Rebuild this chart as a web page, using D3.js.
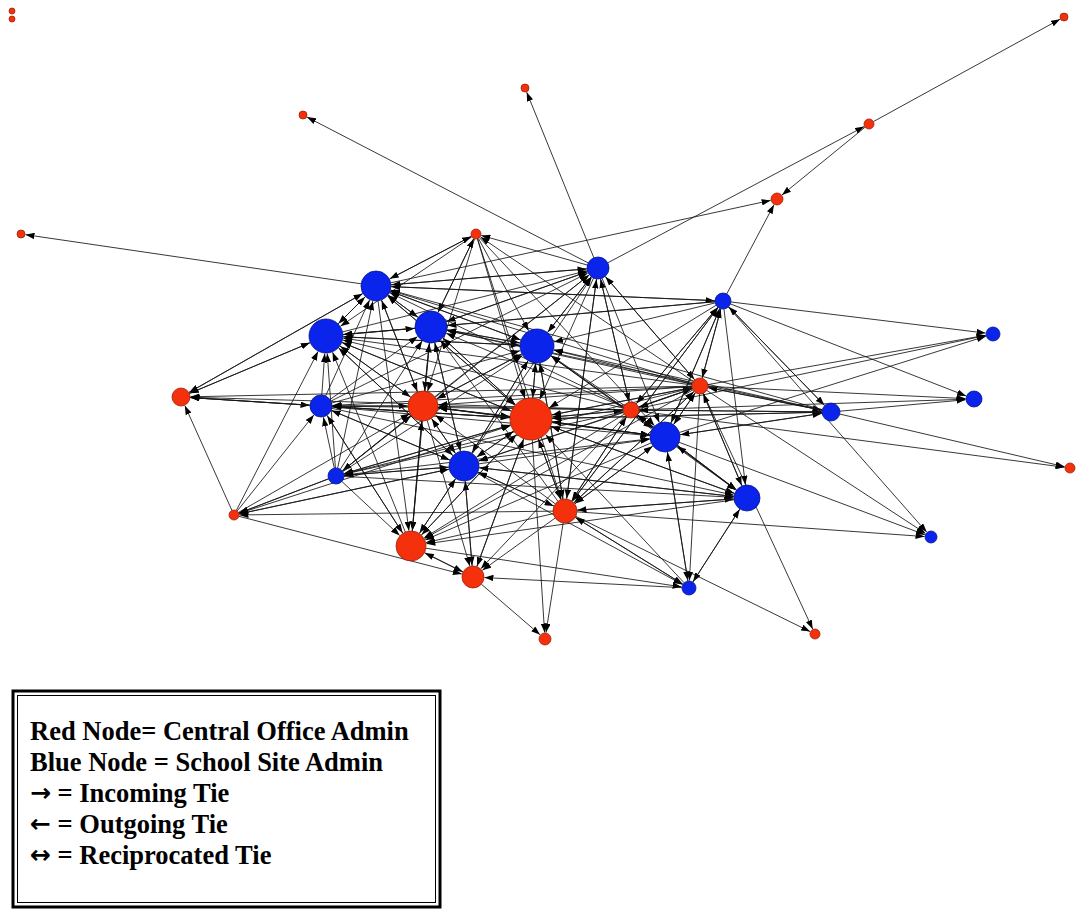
<!DOCTYPE html>
<html>
<head>
<meta charset="utf-8">
<script src="https://cdn.jsdelivr.net/npm/d3@7"></script>
<style>
  html, body { margin: 0; padding: 0; background: #fff; }
  svg { display: block; }
</style>
</head>
<body>
<svg id="net" width="1078" height="909"></svg>
<script>
// Advice network among district administrators.
// Node layout coordinates (layout units), role and size (in-degree based).
const nodeX = [12, 12, 1064, 525, 303, 869, 777, 21, 476, 598, 376, 723, 326, 431, 537, 993,
               181, 321, 423, 531, 631, 700, 665, 831, 974, 1070, 336, 464, 234, 565, 747, 931,
               411, 473, 689, 545, 815];
const nodeY = [11, 19, 17, 88, 115, 124, 199, 234, 234, 268, 286, 301, 336, 327, 346, 334,
               397, 406, 406, 419, 410, 386, 437, 412, 399, 468, 476, 466, 515, 511, 498, 537,
               546, 577, 588, 639, 634];
const nodeRole = ["C","C","C","C","C","C","C","C","C","S","S","S","S","S","S","S",
                  "C","S","C","C","C","C","S","S","S","C","S","S","C","C","S","S",
                  "C","C","S","C","C"];
const nodeSize = [0, 0, 1, 1, 1, 2, 3, 1, 2, 8, 12, 5, 14, 13, 14, 4,
                  6, 8, 12, 18, 5, 5, 12, 6, 5, 2, 5, 12, 2, 9, 10, 3,
                  12, 8, 4, 3, 2];

// Directed ties, [sender, receiver] by node index (nodes 0 and 1 are isolates).
const ties = [
  [5,2],[9,5],[5,6],[11,6],[10,6],[9,3],[9,4],[10,7],
  [8,10],[8,13],[8,14],[8,19],[8,18],[8,29],[8,22],[8,12],
  [9,8],[9,19],[9,14],[9,22],[9,29],[9,13],[9,10],[9,21],[9,20],
  [10,8],[10,13],[10,9],[10,19],[10,18],[10,16],[10,14],[10,32],[10,11],[10,12],
  [11,15],[11,24],[11,31],[11,21],[11,10],[11,14],[11,19],[11,13],[11,30],[11,22],[11,12],[11,29],[11,20],[11,23],
  [12,10],[12,13],[12,19],[12,9],[12,14],[12,27],[12,18],[12,16],
  [13,10],[13,12],[13,8],[13,14],[13,19],[13,9],[13,18],[13,27],[13,32],
  [14,10],[14,13],[14,12],[14,9],[14,19],[14,22],[14,29],[14,30],[14,27],[14,18],
  [16,12],[16,17],[16,10],
  [17,16],[17,12],[17,13],[17,18],[17,19],[17,27],[17,9],[17,32],[17,10],[17,14],[17,22],[17,30],
  [18,10],[18,12],[18,13],[18,14],[18,19],[18,17],[18,27],[18,32],[18,9],[18,26],[18,33],[18,22],
  [19,18],[19,14],[19,13],[19,12],[19,10],[19,22],[19,27],[19,32],[19,16],[19,17],[19,26],[19,29],[19,35],[19,30],[19,33],[19,23],[19,21],[19,20],
  [20,19],[20,14],[20,13],[20,12],[20,10],[20,18],[20,22],[20,27],[20,32],[20,17],[20,16],[20,26],[20,29],[20,30],[20,33],[20,15],[20,24],[20,25],[20,23],[20,21],[20,9],[20,11],
  [21,19],[21,14],[21,13],[21,12],[21,10],[21,18],[21,22],[21,27],[21,32],[21,17],[21,16],[21,26],[21,29],[21,30],[21,15],[21,24],[21,31],[21,36],[21,34],[21,23],[21,20],[21,11],[21,8],[21,9],
  [22,19],[22,14],[22,20],[22,21],[22,30],[22,34],[22,15],[22,31],[22,32],[22,18],[22,11],[22,23],[22,29],
  [23,24],[23,25],[23,21],[23,20],[23,22],[23,19],[23,14],[23,11],[23,10],[23,13],
  [26,17],[26,12],[26,13],[26,18],[26,19],[26,27],[26,32],[26,10],[26,14],[26,9],[26,22],[26,30],[26,28],
  [27,18],[27,19],[27,13],[27,12],[27,32],[27,33],[27,26],[27,17],[27,22],[27,30],[27,29],[27,34],[27,14],[27,9],[27,28],
  [28,16],[28,12],[28,33],[28,27],[28,17],[28,19],[28,18],
  [29,19],[29,18],[29,27],[29,32],[29,33],[29,22],[29,14],[29,13],[29,31],[29,36],[29,35],[29,34],[29,21],[29,20],[29,9],[29,30],[29,11],[29,28],
  [30,22],[30,19],[30,20],[30,21],[30,34],[30,29],[30,27],[30,32],
  [32,18],[32,33],[32,27],[32,19],[32,17],[32,12],[32,34],
  [33,32],[33,35],[33,27],[33,19],
  [34,33],[34,22],[34,29],[34,30],[34,19],
  [26,28]
];

const fillByRole = { C: "#f5300c", S: "#0a24ec" };
const edgeByRole = { C: "#9c2206", S: "#06148e" };

const svg = d3.select("#net");

// Layout space -> screen.
const x = d3.scaleLinear().domain(d3.extent(nodeX)).range([12, 1070]);
const y = d3.scaleLinear().domain(d3.extent(nodeY)).range([11, 639]);
const r = d3.scaleLinear().domain([0, 18]).range([3, 21]);

const nodes = nodeX.map((_, i) => ({
  id: i, cx: x(nodeX[i]), cy: y(nodeY[i]), r: r(nodeSize[i]), role: nodeRole[i]
}));

svg.append("defs").append("marker")
  .attr("id", "tip")
  .attr("viewBox", "0 -3.2 9 6.4")
  .attr("refX", 9).attr("refY", 0)
  .attr("markerWidth", 9).attr("markerHeight", 6.4)
  .attr("markerUnits", "userSpaceOnUse")
  .attr("orient", "auto")
  .append("path").attr("d", "M0,-3.2L9,0L0,3.2Z").attr("fill", "#000");

// Ties end on the receiver's rim so the arrowhead touches the circle.
const links = ties.map(([s, t]) => {
  const a = nodes[s], b = nodes[t];
  const dx = b.cx - a.cx, dy = b.cy - a.cy, len = Math.hypot(dx, dy);
  const ux = dx / len, uy = dy / len;
  return { x1: a.cx + ux * a.r, y1: a.cy + uy * a.r, x2: b.cx - ux * (b.r + 0.5), y2: b.cy - uy * (b.r + 0.5) };
});

svg.append("g").attr("class", "ties")
  .selectAll("line").data(links).join("line")
  .attr("x1", d => d.x1).attr("y1", d => d.y1)
  .attr("x2", d => d.x2).attr("y2", d => d.y2)
  .attr("stroke", "#141414").attr("stroke-width", 0.85)
  .attr("marker-end", "url(#tip)");

svg.append("g").attr("class", "nodes")
  .selectAll("circle").data(nodes).join("circle")
  .attr("cx", d => d.cx).attr("cy", d => d.cy).attr("r", d => d.r)
  .attr("fill", d => fillByRole[d.role])
  .attr("stroke", d => edgeByRole[d.role]).attr("stroke-width", 0.8);

// Legend box with double rule.
const legendLines = [
  { sym: "", label: "Red Node= Central Office Admin" },
  { sym: "", label: "Blue Node = School Site Admin" },
  { sym: "\u2192", label: " = Incoming Tie" },
  { sym: "\u2190", label: " = Outgoing Tie" },
  { sym: "\u2194", label: " = Reciprocated Tie" }
];
const lg = svg.append("g").attr("class", "legend");
lg.append("rect").attr("x", 13).attr("y", 691).attr("width", 427).attr("height", 216)
  .attr("fill", "#fff").attr("stroke", "#000").attr("stroke-width", 3);
lg.append("rect").attr("x", 17.5).attr("y", 695.5).attr("width", 418).attr("height", 207)
  .attr("fill", "none").attr("stroke", "#000").attr("stroke-width", 1);
const rows = lg.selectAll("text").data(legendLines).join("text")
  .attr("x", 30).attr("y", (d, i) => 740 + i * 31)
  .attr("font-family", "'Liberation Serif', 'Times New Roman', serif")
  .attr("font-weight", "bold").attr("font-size", 26.5)
  .attr("fill", "#000");
rows.filter(d => d.sym).append("tspan")
  .attr("font-family", "'DejaVu Sans', sans-serif").attr("font-size", 25)
  .attr("dy", -1)
  .text(d => d.sym);
rows.append("tspan")
  .attr("dy", d => d.sym ? 1 : 0)
  .text(d => d.label);
</script>
</body>
</html>
